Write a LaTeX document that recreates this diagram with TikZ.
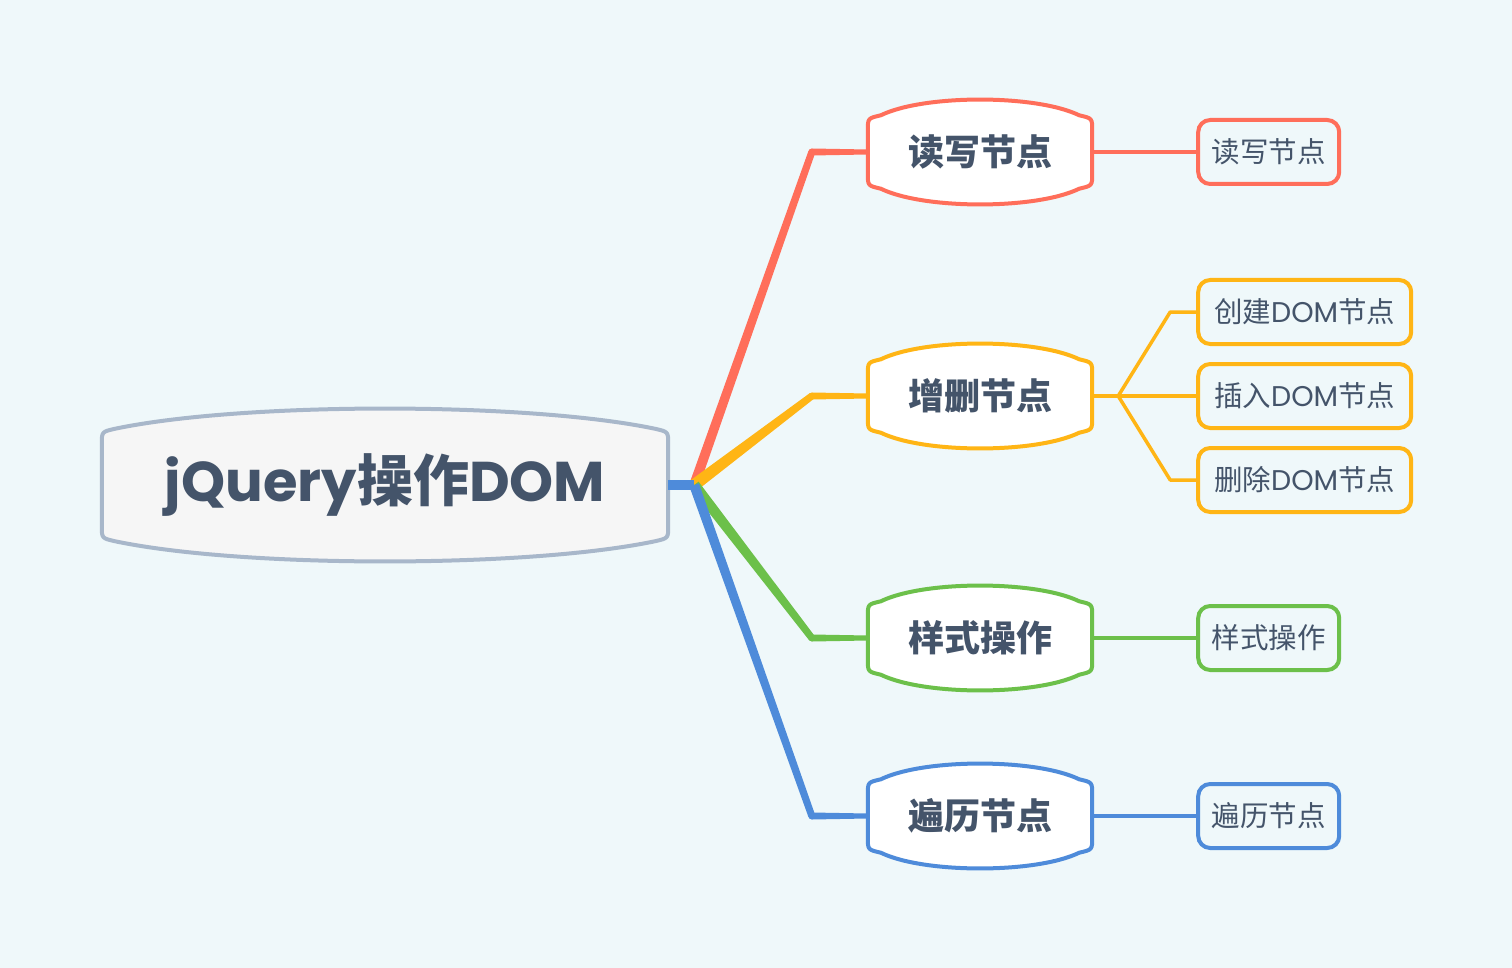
\documentclass[tikz,border=0pt]{standalone}
\usepackage{fontspec}
\setmainfont{Poppins}
\newfontfamily\cjk{Noto Sans CJK SC}
\usetikzlibrary{calc,positioning}

\definecolor{bgcol}{HTML}{EFF8FA}
\definecolor{ink}{HTML}{44546A}
\definecolor{rootline}{HTML}{A8B7CA}
\definecolor{rootfill}{HTML}{F6F6F6}
\definecolor{cred}{HTML}{FF6E5A}
\definecolor{corange}{HTML}{FFB515}
\definecolor{cgreen}{HTML}{6CC04A}
\definecolor{cblue}{HTML}{4E8BDA}

\pgfdeclarelayer{back}
\pgfdeclarelayer{shapes}
\pgfsetlayers{back,shapes,main}

% curved top and bottom box round a named node
\newcommand{\bulgebox}[4]{%
  \begin{pgfonlayer}{shapes}
  \draw[line width=4pt, draw=#3, fill=#4, line join=round]
    ([yshift=-12pt]#1.north west) -- ([yshift=12pt]#1.south west)
    .. controls (#1.south west) .. ([xshift=13pt,yshift=-3pt]#1.south west)
    .. controls ($(#1.south west)!0.5!(#1.south)+(0,-#2)$) and ($(#1.south east)!0.5!(#1.south)+(0,-#2)$) .. ([xshift=-13pt,yshift=-3pt]#1.south east)
    .. controls (#1.south east) .. ([yshift=12pt]#1.south east)
    -- ([yshift=-12pt]#1.north east)
    .. controls (#1.north east) .. ([xshift=-13pt,yshift=3pt]#1.north east)
    .. controls ($(#1.north east)!0.5!(#1.north)+(0,#2)$) and ($(#1.north west)!0.5!(#1.north)+(0,#2)$) .. ([xshift=13pt,yshift=3pt]#1.north west)
    .. controls (#1.north west) .. ([yshift=-12pt]#1.north west) -- cycle;
  \end{pgfonlayer}}

% tapered stroke from #1 (width #3) to #2 (width #4)
\newcommand{\taper}[5]{%
  \fill[#5] ($(#1)!#3/2!90:(#2)$) -- ($(#2)!#4/2!-90:(#1)$)
    -- ($(#2)!#4/2!90:(#1)$) -- ($(#1)!#3/2!-90:(#2)$) -- cycle;}

\tikzset{
  rootnode/.style={minimum width=566pt, minimum height=106pt, inner sep=0pt, text=ink,
    font=\fontsize{56}{60}\selectfont\bfseries},
  topic/.style={minimum width=224pt, minimum height=67pt, inner sep=0pt, text=ink,
    font=\cjk\fontsize{36}{40}\selectfont\bfseries},
  leaf/.style={draw=#1, line width=4pt, rounded corners=12pt, minimum height=64pt,
    inner sep=0pt, text=ink, font=\fontsize{28.5}{32}\selectfont},
  twig/.style={draw=#1, line width=3.5pt, line join=round},
}

\begin{document}
\begin{tikzpicture}[x=1pt,y=-1pt]
  \begin{pgfonlayer}{back}
    \fill[bgcol] (0,0) rectangle (1512,968);
  \end{pgfonlayer}

  % root
  \node[rootnode] (root) at (385,485) {jQuery{\cjk 操作}DOM};
  \bulgebox{root}{30pt}{rootline}{rootfill}
  \coordinate[right=26pt of root] (hub);

  % topics
  \node[topic] (rw) at (980,152) {读写节点};
  \node[topic] (zs) at (980,396) {增删节点};
  \node[topic] (ys) at (980,638) {样式操作};
  \node[topic] (bl) at (980,816) {遍历节点};
  \bulgebox{rw}{24pt}{cred}{white}
  \bulgebox{zs}{24pt}{corange}{white}
  \bulgebox{ys}{24pt}{cgreen}{white}
  \bulgebox{bl}{24pt}{cblue}{white}

  % leaves
  \node[leaf=cred, minimum width=141pt, right=104pt of rw] (rw1) {\cjk 读写节点};
  \node[leaf=corange, minimum width=213pt, right=104pt of zs] (zs2) {{\cjk 插入}DOM{\cjk 节点}};
  \node[leaf=corange, minimum width=213pt, above=16pt of zs2] (zs1) {{\cjk 创建}DOM{\cjk 节点}};
  \node[leaf=corange, minimum width=213pt, below=16pt of zs2] (zs3) {{\cjk 删除}DOM{\cjk 节点}};
  \node[leaf=cgreen, minimum width=141pt, right=104pt of ys] (ys1) {\cjk 样式操作};
  \node[leaf=cblue, minimum width=141pt, right=104pt of bl] (bl1) {\cjk 遍历节点};

  % main branches
  \coordinate (rwk) at ([xshift=-56pt]rw.west);
  \coordinate (zsk) at ([xshift=-56pt]zs.west);
  \coordinate (ysk) at ([xshift=-56pt]ys.west);
  \coordinate (blk) at ([xshift=-56pt]bl.west);
  \taper{hub}{rwk}{10pt}{7pt}{cred}
  \taper{rwk}{rw.west}{7pt}{5pt}{cred}
  \fill[cred] (rwk) circle (3.5pt);
  \taper{hub}{zsk}{12pt}{7pt}{corange}
  \taper{zsk}{zs.west}{7pt}{5pt}{corange}
  \fill[corange] (zsk) circle (3.5pt);
  \taper{hub}{ysk}{11pt}{7pt}{cgreen}
  \taper{ysk}{ys.west}{7pt}{5pt}{cgreen}
  \fill[cgreen] (ysk) circle (3.5pt);
  \taper{hub}{blk}{10pt}{7pt}{cblue}
  \taper{blk}{bl.west}{7pt}{5pt}{cblue}
  \fill[cblue] (blk) circle (3.5pt);
  \draw[cblue, line width=10pt] (root.east) -- (hub);

  % leaf lines
  \draw[twig=cred] (rw.east) -- (rw1.west);
  \coordinate[right=26pt of zs] (zsfork);
  \draw[twig=corange] (zs.east) -- (zsfork) -- (zs2.west);
  \draw[twig=corange] (zsfork) -- ([xshift=-26pt]zs1.west) -- (zs1.west);
  \draw[twig=corange] (zsfork) -- ([xshift=-26pt]zs3.west) -- (zs3.west);
  \draw[twig=cgreen] (ys.east) -- (ys1.west);
  \draw[twig=cblue] (bl.east) -- (bl1.west);
\end{tikzpicture}
\end{document}
